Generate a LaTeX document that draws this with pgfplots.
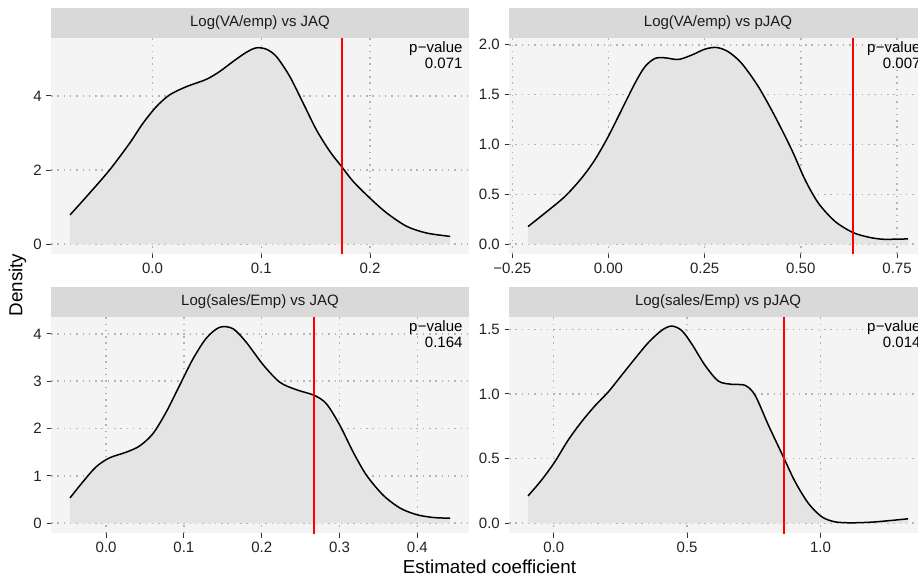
\documentclass[border=0pt]{standalone}
\usepackage{pgfplots}
\pgfplotsset{compat=1.18}
\usepackage{pgfplotstable}
\usepackage{fontspec}
\setmainfont{Liberation Sans}
\definecolor{panelbg}{HTML}{F4F4F4}
\definecolor{fillcol}{HTML}{E4E4E4}
\definecolor{stripcol}{HTML}{D9D9D9}
\definecolor{gridcol}{HTML}{B4B4B4}
\definecolor{tickcol}{HTML}{333333}
\definecolor{labcol}{HTML}{222222}
\definecolor{striptext}{HTML}{1A1A1A}
\definecolor{vline}{HTML}{FF0000}

\pgfplotstableread{
x y
-0.0759 0.79
-0.058 1.375
-0.0396 2.0
-0.0212 2.72
-0.0089 3.26
0.0034 3.71
0.0157 4.03
0.031 4.25
0.0495 4.45
0.0617 4.66
0.074 4.93
0.0863 5.18
0.0955 5.30
0.1048 5.26
0.114 5.06
0.1263 4.52
0.1386 3.80
0.1508 3.08
0.1631 2.50
0.174 2.09
0.1846 1.69
0.2 1.24
0.2154 0.84
0.2338 0.48
0.2522 0.30
0.2737 0.21
}\tabA

\pgfplotstableread{
x y
-0.2092 0.177
-0.1658 0.31
-0.1137 0.477
-0.0703 0.661
-0.0356 0.845
-0.0009 1.078
0.0339 1.346
0.0686 1.613
0.0946 1.78
0.1207 1.863
0.1467 1.87
0.1814 1.853
0.2161 1.897
0.2509 1.957
0.2813 1.973
0.3116 1.93
0.3464 1.813
0.3898 1.579
0.4332 1.279
0.4766 0.945
0.5113 0.644
0.546 0.41
0.5894 0.227
0.6354 0.117
0.6762 0.07
0.7109 0.05
0.7457 0.05
0.7786 0.053
}\tabB

\pgfplotstableread{
x y
-0.0464 0.534
-0.03 0.87
-0.0129 1.19
0.0043 1.38
0.0258 1.50
0.0429 1.63
0.0601 1.89
0.0773 2.35
0.0944 2.91
0.1116 3.47
0.1288 3.91
0.1459 4.14
0.1631 4.11
0.1803 3.82
0.2017 3.35
0.2232 2.98
0.2446 2.82
0.2678 2.70
0.2833 2.52
0.3004 2.07
0.3176 1.50
0.3348 1.01
0.3562 0.59
0.3777 0.32
0.3991 0.18
0.4206 0.12
0.442 0.105
}\tabC

\pgfplotstableread{
x y
-0.0964 0.211
-0.0463 0.332
0.0038 0.474
0.0538 0.642
0.1039 0.784
0.1539 0.907
0.204 1.015
0.2541 1.144
0.3041 1.273
0.3542 1.397
0.4043 1.492
0.4418 1.526
0.4794 1.492
0.5169 1.389
0.567 1.222
0.617 1.10
0.6671 1.075
0.7171 1.067
0.7547 0.99
0.8048 0.758
0.8636 0.50
0.9049 0.32
0.955 0.152
1.005 0.049
1.055 0.01
1.118 0.003
1.205 0.01
1.328 0.034
}\tabD

\pgfplotsset{
  facet/.style={
    scale only axis, width=418pt, height=216pt, anchor=south west,
    set layers,
    axis background/.style={fill=panelbg},
    axis line style={draw=none},
    tick align=outside, tick pos=left,
    major tick length=4.5pt,
    tick style={color=tickcol, line width=1pt},
    grid=major,
    major grid style={color=gridcol, line width=1.5pt, dash pattern=on 1.5pt off 4.8pt},
    ticklabel style={font=\fontsize{15}{18}\selectfont, text=labcol},
    xticklabel style={anchor=north, inner sep=0pt, yshift=-4.8pt},
    yticklabel style={anchor=east, inner sep=0pt, xshift=-4.5pt},
  },
  dens/.style={draw=black, line width=1.5pt, smooth},
  densfill/.style={fill=fillcol, draw=none, smooth},
  redl/.style={draw=vline, color=vline, line width=2pt, no marks},
}
\newcommand{\pval}[1]{\node[anchor=north east, align=right, inner sep=0pt, font=\fontsize{15}{16}\selectfont, text=black] at ([xshift=-6.3pt, yshift=-3.7pt]rel axis cs:1,1) {p\kern0.5pt−value\\#1};}
\newcommand{\strip}[2]{\fill[stripcol] (#1.north west) rectangle ([yshift=30pt]#1.north east);
\node[font=\fontsize{15}{18}\selectfont, text=striptext] at ([yshift=15pt]#1.north) {#2};}

\begin{document}
\begin{tikzpicture}
% panel 1
\begin{axis}[facet, name=p1, at={(51pt,327pt)},
  xmin=-0.0934, xmax=0.291, ymin=-0.265, ymax=5.565,
  xtick={0,0.1,0.2}, xticklabels={0.0,0.1,0.2},
  ytick={0,2,4}, yticklabels={0,2,4}]
\addplot[densfill] table {\tabA} \closedcycle;
\addplot[dens] table {\tabA};
\addplot[redl] coordinates {(0.1739,-0.3) (0.1739,5.6)};
\pval{0.071}
\end{axis}
\strip{p1}{Log(VA/emp) vs JAQ}
% panel 2
\begin{axis}[facet, name=p2, at={(509pt,327pt)},
  xmin=-0.2586, xmax=0.828, ymin=-0.0985, ymax=2.0685,
  xtick={-0.25,0,0.25,0.5,0.75}, xticklabels={−0.25,0.00,0.25,0.50,0.75},
  ytick={0,0.5,1,1.5,2}, yticklabels={0.0,0.5,1.0,1.5,2.0}]
\addplot[densfill] table {\tabB} \closedcycle;
\addplot[dens] table {\tabB};
\addplot[redl] coordinates {(0.6354,-0.12) (0.6354,2.1)};
\pval{0.007}
\end{axis}
\strip{p2}{Log(VA/emp) vs pJAQ}
% panel 3
\begin{axis}[facet, name=p3, at={(51pt,48pt)},
  xmin=-0.0708, xmax=0.4664, ymin=-0.2075, ymax=4.3575,
  xtick={0,0.1,0.2,0.3,0.4}, xticklabels={0.0,0.1,0.2,0.3,0.4},
  ytick={0,1,2,3,4}, yticklabels={0,1,2,3,4}]
\addplot[densfill] table {\tabC} \closedcycle;
\addplot[dens] table {\tabC};
\addplot[redl] coordinates {(0.2678,-0.25) (0.2678,4.4)};
\pval{0.164}
\end{axis}
\strip{p3}{Log(sales/Emp) vs JAQ}
% panel 4
\begin{axis}[facet, name=p4, at={(509pt,48pt)},
  xmin=-0.1676, xmax=1.399, ymin=-0.076, ymax=1.596,
  xtick={0,0.5,1}, xticklabels={0.0,0.5,1.0},
  ytick={0,0.5,1,1.5}, yticklabels={0.0,0.5,1.0,1.5}]
\addplot[densfill] table {\tabD} \closedcycle;
\addplot[dens] table {\tabD};
\addplot[redl] coordinates {(0.8636,-0.1) (0.8636,1.62)};
\pval{0.014}
\end{axis}
\strip{p4}{Log(sales/Emp) vs pJAQ}
% axis titles
\node[rotate=90, font=\fontsize{18.8}{22}\selectfont, text=black] at (17.5pt,296pt) {Density};
\node[anchor=base, font=\fontsize{18.8}{22}\selectfont, text=black] at (489.5pt,7.7pt) {Estimated coefficient};
\pgfresetboundingbox
\path[use as bounding box] (0,0) rectangle (918pt,581pt);
\end{tikzpicture}
\end{document}
